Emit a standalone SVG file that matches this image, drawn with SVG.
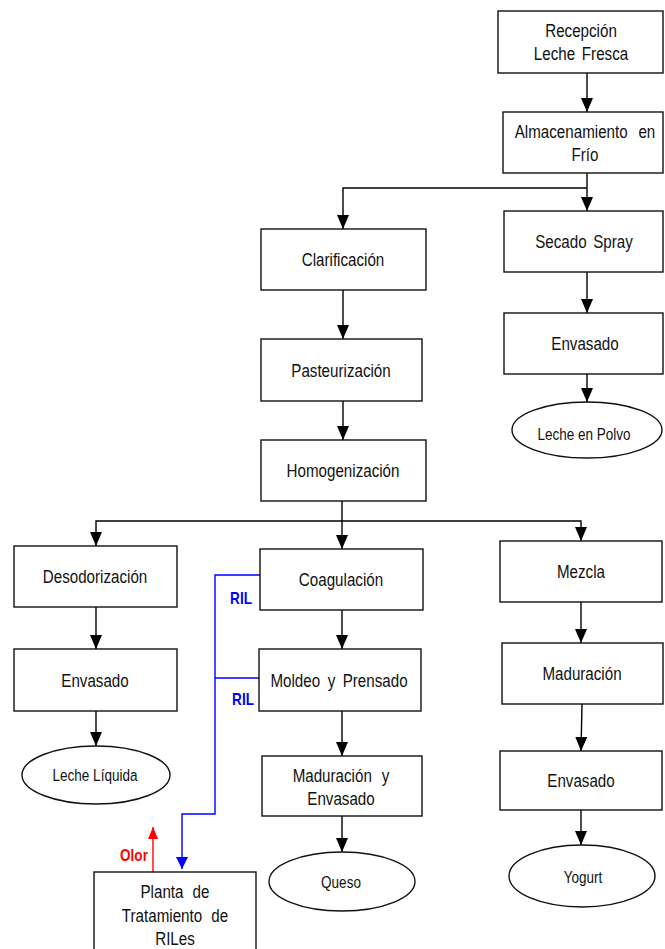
<svg xmlns="http://www.w3.org/2000/svg" width="665" height="949" viewBox="0 0 665 949">
  <defs>
    <marker id="ah" viewBox="0 0 14 12" refX="14" refY="6" markerWidth="14" markerHeight="12" markerUnits="userSpaceOnUse" orient="auto">
      <path d="M0,0 L14,6 L0,12 z" fill="#000"/>
    </marker>
    <marker id="ahBlue" viewBox="0 0 12 12" refX="12" refY="6" markerWidth="12" markerHeight="12" markerUnits="userSpaceOnUse" orient="auto">
      <path d="M0,0 L12,6 L0,12 z" fill="#0000ff"/>
    </marker>
    <marker id="ahRed" viewBox="0 0 12 10" refX="12" refY="5" markerWidth="12" markerHeight="10" markerUnits="userSpaceOnUse" orient="auto">
      <path d="M0,0 L12,5 L0,10 z" fill="#ff0000"/>
    </marker>
  </defs>
  <style>
    .box { fill: #fff; stroke: #111; stroke-width: 1.4; }
    .oval { fill: #fff; stroke: #111; stroke-width: 1.4; }
    /* condensed sans: Liberation Sans squeezed horizontally via transform */
    .lbl { font-family: "Liberation Sans", Arial, sans-serif; font-size: 18.5px; fill: #111; text-anchor: middle; }
    .sm { font-size: 16.5px; }
    .flow { fill: none; stroke: #000; stroke-width: 1.4; }
    .flow-a { marker-end: url(#ah); }
    .ril { fill: none; stroke: #0000ff; stroke-width: 1.4; }
    .olor { fill: none; stroke: #ff0000; stroke-width: 1.4; marker-end: url(#ahRed); }
    .tag { font-family: "Liberation Sans", Arial, sans-serif; font-size: 16.5px; font-weight: bold; text-anchor: middle; }
  </style>

  <!-- connectors -->
  <g id="connectors">
    <line class="flow flow-a" x1="587" y1="73" x2="587" y2="112"/>
    <line class="flow flow-a" x1="587" y1="173" x2="587" y2="211"/>
    <path class="flow flow-a" d="M587,188 H343 V229"/>
    <line class="flow flow-a" x1="343" y1="290" x2="343" y2="339"/>
    <line class="flow flow-a" x1="343" y1="401" x2="343" y2="440"/>
    <line class="flow flow-a" x1="587" y1="272" x2="587" y2="313"/>
    <line class="flow flow-a" x1="587" y1="374" x2="587" y2="402"/>
    <line class="flow flow-a" x1="342" y1="501" x2="342" y2="549"/>
    <path class="flow flow-a" d="M342,521 H96 V546"/>
    <path class="flow flow-a" d="M342,521 H581 V541"/>
    <line class="flow flow-a" x1="96" y1="607" x2="96" y2="649"/>
    <line class="flow flow-a" x1="96" y1="711" x2="96" y2="746"/>
    <line class="flow flow-a" x1="342" y1="610" x2="342" y2="649"/>
    <line class="flow flow-a" x1="342" y1="711" x2="342" y2="756"/>
    <line class="flow flow-a" x1="342" y1="816" x2="342" y2="852"/>
    <line class="flow flow-a" x1="581" y1="602" x2="581" y2="643"/>
    <line class="flow flow-a" x1="582" y1="704" x2="581" y2="751"/>
    <line class="flow flow-a" x1="581" y1="810" x2="581" y2="845"/>
    <path class="ril" d="M260,575 H215 V814 H182 V869" marker-end="url(#ahBlue)"/>
    <line class="ril" x1="260" y1="678" x2="215" y2="678"/>
    <line class="olor" x1="153" y1="872" x2="153" y2="827"/>
    <text class="tag" transform="translate(241,604) scale(0.82,1)" fill="#0000ff">RIL</text>
    <text class="tag" transform="translate(243,705) scale(0.82,1)" fill="#0000ff">RIL</text>
    <text class="tag" transform="translate(134,861) scale(0.82,1)" fill="#ff0000">Olor</text>
  </g>

  <!-- upper branch -->
  <g id="recepcion">
    <rect class="box" x="498" y="11" width="165" height="62"/>
    <text class="lbl" transform="translate(581,37) scale(0.82,1)">Recepción</text>
    <text class="lbl" transform="translate(581,60) scale(0.82,1)" word-spacing="3">Leche Fresca</text>
  </g>
  <g id="almacenamiento">
    <rect class="box" x="503" y="112" width="160" height="61"/>
    <text class="lbl" transform="translate(585,137.5) scale(0.82,1)" word-spacing="8">Almacenamiento en</text>
    <text class="lbl" transform="translate(585,161) scale(0.82,1)">Frío</text>
  </g>
  <g id="secado">
    <rect class="box" x="504" y="211" width="159" height="61"/>
    <text class="lbl" transform="translate(584,248) scale(0.82,1)" word-spacing="3">Secado Spray</text>
  </g>
  <g id="envasado-polvo">
    <rect class="box" x="504" y="313" width="159" height="61"/>
    <text class="lbl" transform="translate(585,350) scale(0.82,1)">Envasado</text>
  </g>
  <g id="leche-polvo">
    <ellipse class="oval" cx="587" cy="430" rx="75" ry="28"/>
    <text class="lbl sm" transform="translate(584,440) scale(0.82,1)">Leche en Polvo</text>
  </g>

  <!-- central trunk -->
  <g id="clarificacion">
    <rect class="box" x="261" y="229" width="165" height="61"/>
    <text class="lbl" transform="translate(343,266) scale(0.82,1)">Clarificación</text>
  </g>
  <g id="pasteurizacion">
    <rect class="box" x="261" y="339" width="161" height="62"/>
    <text class="lbl" transform="translate(341,376.5) scale(0.82,1)">Pasteurización</text>
  </g>
  <g id="homogenizacion">
    <rect class="box" x="261" y="440" width="165" height="61"/>
    <text class="lbl" transform="translate(343,477) scale(0.82,1)">Homogenización</text>
  </g>

  <!-- liquid milk -->
  <g id="desodorizacion">
    <rect class="box" x="14" y="546" width="163" height="61"/>
    <text class="lbl" transform="translate(95,582.5) scale(0.82,1)">Desodorización</text>
  </g>
  <g id="envasado-liquida">
    <rect class="box" x="14" y="649" width="163" height="62"/>
    <text class="lbl" transform="translate(95,686.5) scale(0.82,1)">Envasado</text>
  </g>
  <g id="leche-liquida">
    <ellipse class="oval" cx="96" cy="775" rx="74" ry="29"/>
    <text class="lbl sm" transform="translate(95,781) scale(0.82,1)">Leche Líquida</text>
  </g>

  <!-- cheese -->
  <g id="coagulacion">
    <rect class="box" x="260" y="549" width="163" height="61"/>
    <text class="lbl" transform="translate(341,586) scale(0.82,1)">Coagulación</text>
  </g>
  <g id="moldeo">
    <rect class="box" x="259" y="649" width="162" height="62"/>
    <text class="lbl" transform="translate(339,686.5) scale(0.82,1)" word-spacing="4">Moldeo y Prensado</text>
  </g>
  <g id="maduracion-envasado">
    <rect class="box" x="262" y="756" width="160" height="60"/>
    <text class="lbl" transform="translate(341,781.5) scale(0.82,1)" word-spacing="7">Maduración y</text>
    <text class="lbl" transform="translate(341,805) scale(0.82,1)">Envasado</text>
  </g>
  <g id="queso">
    <ellipse class="oval" cx="342" cy="881.5" rx="73" ry="29.5"/>
    <text class="lbl sm" transform="translate(341,888) scale(0.82,1)">Queso</text>
  </g>

  <!-- yogurt -->
  <g id="mezcla">
    <rect class="box" x="500" y="541" width="162" height="61"/>
    <text class="lbl" transform="translate(581,578) scale(0.82,1)">Mezcla</text>
  </g>
  <g id="maduracion">
    <rect class="box" x="502" y="643" width="161" height="61"/>
    <text class="lbl" transform="translate(582,680) scale(0.82,1)">Maduración</text>
  </g>
  <g id="envasado-yogurt">
    <rect class="box" x="500" y="751" width="162" height="59"/>
    <text class="lbl" transform="translate(581,787) scale(0.82,1)">Envasado</text>
  </g>
  <g id="yogurt">
    <ellipse class="oval" cx="582" cy="876" rx="73" ry="31"/>
    <text class="lbl sm" transform="translate(583,883) scale(0.82,1)">Yogurt</text>
  </g>

  <!-- effluent treatment -->
  <g id="planta">
    <rect class="box" x="94" y="872" width="162" height="100"/>
    <text class="lbl" transform="translate(175,898) scale(0.82,1)" word-spacing="6">Planta de</text>
    <text class="lbl" transform="translate(175,921.5) scale(0.82,1)" word-spacing="6">Tratamiento de</text>
    <text class="lbl" transform="translate(175,944.5) scale(0.82,1)">RILes</text>
  </g>
</svg>
